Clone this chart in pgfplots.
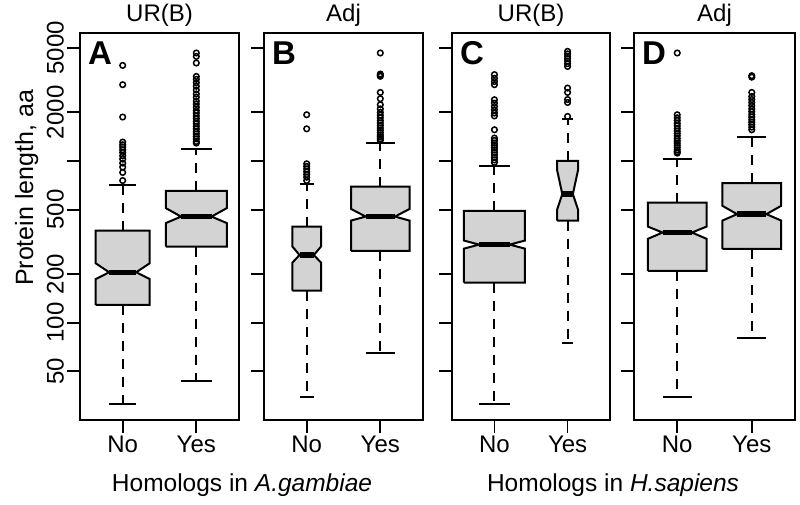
\documentclass[border=0pt]{standalone}
\usepackage{fontspec}
\setmainfont{Liberation Sans}
\usepackage{pgfplots}
\pgfplotsset{compat=1.18}
\definecolor{boxgray}{RGB}{211,211,211}

% notched box: #1 x, #2 half width, #3 lower whisker, #4 Q1, #5 notch low, #6 median, #7 notch high, #8 Q3, #9 upper whisker
\newcommand{\nbox}[9]{%
  \pgfmathsetmacro\bxL{#1-#2}%
  \pgfmathsetmacro\bxR{#1+#2}%
  \pgfmathsetmacro\bnL{#1-#2/2}%
  \pgfmathsetmacro\bnR{#1+#2/2}%
  \addplot[black, line width=2pt, dash pattern=on 10pt off 8pt] coordinates {(#1,#4) (#1,#3)};
  \addplot[black, line width=2pt, dash pattern=on 10pt off 8pt] coordinates {(#1,#8) (#1,#9)};
  \addplot[black, line width=2pt] coordinates {(\bnL,#3) (\bnR,#3)};
  \addplot[black, line width=2pt] coordinates {(\bnL,#9) (\bnR,#9)};
  \addplot[draw=black, line width=2pt, fill=boxgray, line join=miter] coordinates {(\bxL,#4) (\bxL,#5) (\bnL,#6) (\bxL,#7) (\bxL,#8) (\bxR,#8) (\bxR,#7) (\bnR,#6) (\bxR,#5) (\bxR,#4) (\bxL,#4)};
  \addplot[black, line width=5.5pt] coordinates {(\bnL,#6) (\bnR,#6)};
}

\newcommand{\plabel}[1]{\node[anchor=base west, inner sep=0pt, xshift=8pt, yshift=-32pt, font=\fontsize{33}{33}\selectfont\bfseries] at (rel axis cs:0,1) {#1};}

\begin{document}
\begin{tikzpicture}
\useasboundingbox (0pt,0pt) rectangle (800pt,504pt);

% ---------- Panel A ----------
\begin{axis}[at={(80pt,84pt)}, anchor=south west, width=159pt,
    scale only axis, height=387pt, ymode=log, ymin=25, ymax=6190,
    xmin=0.42, xmax=2.58, xtick={1,2}, xticklabels={No,Yes},
    ytick={50,100,200,500,1000,2000,5000}, yminorticks=false,
    tick align=outside, major tick length=13pt,
    xtick pos=left, ytick pos=left,
    axis line style={line width=2pt},
    every tick/.append style={black, line width=1.8pt},
    tick label style={font=\fontsize{24}{24}\selectfont},
    yticklabel style={rotate=90, anchor=south, inner sep=3pt},
    xticklabel style={anchor=north},
    clip=false,
    title style={font=\fontsize{24}{24}\selectfont, anchor=base, at={(0.5,1)}, yshift=5pt},
    title={UR(B)},
    yticklabels={50,100,200,500,,2000,5000}]
\nbox{1}{0.367}{31.4}{128.7}{186}{205}{233}{371}{712}
\nbox{2}{0.414}{43.8}{295.5}{413}{453}{511}{654}{1190}
\addplot[only marks, mark=o, mark size=2.8pt, black, mark options={line width=1.5pt}] coordinates {(1,3902) (1,2965) (1,1870) (1,1309) (1,1260) (1,1220) (1,1173) (1,1129) (1,1077) (1,1027) (1,970) (1,917) (1,849) (1,757)};
\addplot[only marks, mark=o, mark size=2.8pt, black, mark options={line width=1.5pt}] coordinates {(2,4656) (2,4436) (2,4037) (2,3335) (2,3200) (2,3050) (2,2900) (2,2750) (2,2600) (2,2480) (2,2350) (2,2250) (2,2150) (2,2050) (2,1980) (2,1900) (2,1830) (2,1760) (2,1700) (2,1640) (2,1580) (2,1520) (2,1470) (2,1420) (2,1370) (2,1320) (2,1290)};
\plabel{A}
\end{axis}

% ---------- Panel B ----------
\begin{axis}[at={(264pt,84pt)}, anchor=south west, width=159pt,
    scale only axis, height=387pt, ymode=log, ymin=25, ymax=6190,
    xmin=0.42, xmax=2.58, xtick={1,2}, xticklabels={No,Yes},
    ytick={50,100,200,500,1000,2000,5000}, yminorticks=false,
    tick align=outside, major tick length=13pt,
    xtick pos=left, ytick pos=left,
    axis line style={line width=2pt},
    every tick/.append style={black, line width=1.8pt},
    tick label style={font=\fontsize{24}{24}\selectfont},
    xticklabel style={anchor=north},
    clip=false,
    title style={font=\fontsize{24}{24}\selectfont, anchor=base, at={(0.5,1)}, yshift=5pt},
    title={Adj},
    yticklabels={}]
\nbox{1}{0.195}{34.8}{158}{235}{262}{296}{393}{720}
\nbox{2}{0.397}{65.2}{278}{428}{453}{505}{695}{1291}
\addplot[only marks, mark=o, mark size=2.8pt, black, mark options={line width=1.5pt}] coordinates {(1,1932) (1,1581) (1,961) (1,925) (1,891) (1,857) (1,825) (1,794) (1,757)};
\addplot[only marks, mark=o, mark size=2.8pt, black, mark options={line width=1.5pt}] coordinates {(2,4656) (2,3450) (2,3393) (2,3340) (2,2655) (2,2427) (2,2228) (2,2100) (2,2000) (2,1920) (2,1850) (2,1780) (2,1720) (2,1660) (2,1600) (2,1550) (2,1500) (2,1450) (2,1410) (2,1370) (2,1340)};
\plabel{B}
\end{axis}

% ---------- Panel C ----------
\begin{axis}[at={(452pt,84pt)}, anchor=south west, width=158pt,
    scale only axis, height=387pt, ymode=log, ymin=25, ymax=6190,
    xmin=0.42, xmax=2.58, xtick={1,2}, xticklabels={No,Yes},
    ytick={50,100,200,500,1000,2000,5000}, yminorticks=false,
    tick align=outside, major tick length=13pt,
    xtick pos=left, ytick pos=left,
    axis line style={line width=2pt},
    every tick/.append style={black, line width=1.8pt},
    tick label style={font=\fontsize{24}{24}\selectfont},
    xticklabel style={anchor=north},
    clip=false,
    title style={font=\fontsize{24}{24}\selectfont, anchor=base, at={(0.5,1)}, yshift=5pt},
    title={UR(B)},
    yticklabels={}]
\nbox{1}{0.417}{31.2}{177}{287}{304}{322}{492}{925}
\nbox{2}{0.144}{75.2}{427}{499}{624}{882}{1000}{1824}
\addplot[only marks, mark=o, mark size=2.8pt, black, mark options={line width=1.5pt}] coordinates {(1,3421) (1,3250) (1,3100) (1,2965) (1,2393) (1,2280) (1,2170) (1,2070) (1,1980) (1,1900) (1,1560) (1,1386) (1,1340) (1,1290) (1,1250) (1,1210) (1,1170) (1,1130) (1,1090) (1,1050) (1,1015) (1,980)};
\addplot[only marks, mark=o, mark size=2.8pt, black, mark options={line width=1.5pt}] coordinates {(2,4766) (2,4600) (2,4450) (2,4300) (2,4150) (2,4000) (2,3845) (2,2825) (2,2655) (2,2400) (2,2301) (2,1886)};
\plabel{C}
\end{axis}

% ---------- Panel D ----------
\begin{axis}[at={(634pt,84pt)}, anchor=south west, width=161pt,
    scale only axis, height=387pt, ymode=log, ymin=25, ymax=6190,
    xmin=0.42, xmax=2.58, xtick={1,2}, xticklabels={No,Yes},
    ytick={50,100,200,500,1000,2000,5000}, yminorticks=false,
    tick align=outside, major tick length=13pt,
    xtick pos=left, ytick pos=left,
    axis line style={line width=2pt},
    every tick/.append style={black, line width=1.8pt},
    tick label style={font=\fontsize{24}{24}\selectfont},
    xticklabel style={anchor=north},
    clip=false,
    title style={font=\fontsize{24}{24}\selectfont, anchor=base, at={(0.5,1)}, yshift=5pt},
    title={Adj},
    yticklabels={}]
\nbox{1}{0.394}{34.8}{209}{330}{361}{393}{553}{1036}
\nbox{2}{0.394}{80}{286}{428}{469}{528}{729}{1406}
\addplot[only marks, mark=o, mark size=2.8pt, black, mark options={line width=1.5pt}] coordinates {(1,4656) (1,1932) (1,1850) (1,1780) (1,1710) (1,1650) (1,1590) (1,1530) (1,1480) (1,1430) (1,1380) (1,1330) (1,1290) (1,1250) (1,1210) (1,1170) (1,1140) (1,1119)};
\addplot[only marks, mark=o, mark size=2.8pt, black, mark options={line width=1.5pt}] coordinates {(2,3371) (2,3300) (2,2655) (2,2506) (2,2400) (2,2300) (2,2200) (2,2100) (2,2020) (2,1940) (2,1870) (2,1800) (2,1740) (2,1680) (2,1620) (2,1560)};
\plabel{D}
\end{axis}

% ---------- shared labels ----------
\node[rotate=90, anchor=base, font=\fontsize{25}{25}\selectfont] at (33pt,316pt) {Protein length, aa};
\node[anchor=base, font=\fontsize{24.5}{24.5}\selectfont] at (242pt,13pt) {Homologs in \textit{A.gambiae}};
\node[anchor=base, font=\fontsize{24.5}{24.5}\selectfont] at (613pt,13pt) {Homologs in \textit{H.sapiens}};
\end{tikzpicture}
\end{document}
